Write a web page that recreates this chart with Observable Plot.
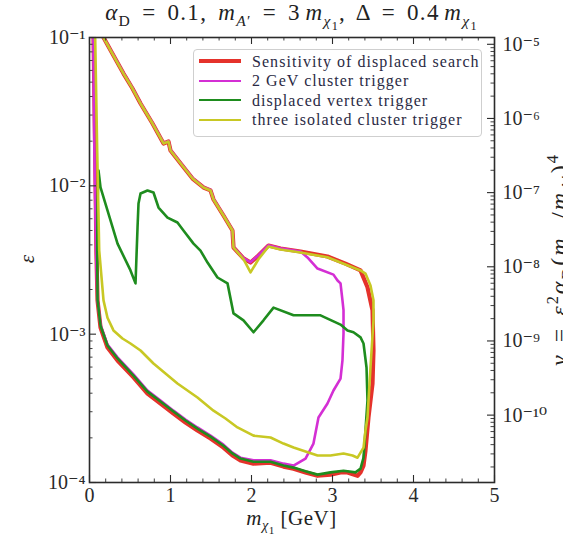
<!DOCTYPE html>
<html>
<head>
<meta charset="utf-8">
<script src="https://cdn.jsdelivr.net/npm/d3@7"></script>
<script src="https://cdn.jsdelivr.net/npm/@observablehq/plot@0.6"></script>
<style>
  body { margin: 0; background: #fff; }
  #fig { position: relative; width: 563px; height: 536px; overflow: hidden;
         font-family: "Liberation Serif", "DejaVu Serif", serif; color: #222; }
  #fig svg { position: absolute; left: 0; top: 0; }
  .ov { position: absolute; white-space: nowrap; line-height: 1; }
  .ov sub, .ov sup { font-size: 68%; line-height: 0; }
  .ov sub sub { font-size: 78%; }
  .sp { display: inline-block; width: 0.2em; }
  #title { left: 89px; width: 405px; top: 1px; text-align: center; font-size: 23px;
           letter-spacing: 1.3px; word-spacing: 4px; }
  #xlabel { left: 89px; width: 405px; top: 508px; text-align: center; font-size: 21px; letter-spacing: 0.5px; }
  #ylabel { left: 27px; top: 259px; font-size: 21px; transform: translate(-50%, -50%) rotate(-90deg); }
  #y2label { font-size: 24px; letter-spacing: 2px; word-spacing: 3px; transform-origin: 0 0; transform: rotate(-90deg); }
  #legend { left: 193px; top: 49px; width: 289px; height: 88px; box-sizing: border-box;
            border: 1px solid #cfcfcf; border-radius: 4px; background: rgba(255,255,255,0.85);
            font-size: 16px; letter-spacing: 1.05px; }
  .row { position: absolute; left: 0; height: 19px; width: 100%; }
  .row .sw { position: absolute; left: 5px; width: 42px; top: 50%; }
  .row .lab { position: absolute; left: 58px; top: 50%; transform: translateY(-50%); color: #2a2a44; }
</style>
</head>
<body>
<div id="fig"></div>
<script>
// Dark-sector reach in (m_chi1, epsilon); alpha_D = 0.1, m_A' = 3 m_chi1, Delta = 0.4 m_chi1.
// Each contour is a list of [m_chi1 (GeV), epsilon] points.

const sensitivity = [
  [0.045, 0.115], [0.05, 0.1], [0.07, 0.0173], [0.085, 0.00366], [0.099, 0.00169],
  [0.136, 0.00111], [0.222, 0.000813], [0.346, 0.000665], [0.543, 0.000511], [0.716, 0.000398],
  [0.877, 0.000341], [1.037, 0.000292], [1.185, 0.000254], [1.333, 0.000224], [1.494, 0.000198],
  [1.654, 0.000172], [1.765, 0.000152], [1.864, 0.000141], [2.025, 0.000134], [2.235, 0.000136],
  [2.395, 0.000128], [2.519, 0.000124], [2.667, 0.000117], [2.815, 0.000111], [2.975, 0.000113],
  [3.099, 0.000117], [3.185, 0.000117], [3.309, 0.000111], [3.346, 0.000117], [3.383, 0.000130],
  [3.407, 0.000164], [3.444, 0.000274], [3.494, 0.000465], [3.506, 0.000776], [3.494, 0.00145],
  [3.432, 0.00207], [3.346, 0.00269], [3.160, 0.00299], [2.938, 0.00334], [2.605, 0.00361],
  [2.358, 0.00378], [2.210, 0.00396], [2.086, 0.00339], [1.988, 0.00304], [1.901, 0.00324],
  [1.778, 0.00384], [1.765, 0.00500], [1.654, 0.00631], [1.531, 0.00809], [1.494, 0.00931],
  [1.407, 0.00975], [1.272, 0.0112], [1.123, 0.0142], [1.0, 0.0173], [0.975, 0.0199],
  [0.914, 0.0193], [0.778, 0.0263], [0.630, 0.0359], [0.531, 0.0453], [0.420, 0.0571],
  [0.296, 0.0756], [0.173, 0.1], [0.123, 0.111]
];

const clusterTrigger2GeV = [
  [0.04, 0.115], [0.045, 0.1], [0.06, 0.0173], [0.08, 0.00366], [0.097, 0.00174],
  [0.136, 0.00116], [0.222, 0.000851], [0.346, 0.000697], [0.543, 0.000535], [0.716, 0.000417],
  [0.877, 0.000357], [1.037, 0.000305], [1.185, 0.000266], [1.333, 0.000235], [1.494, 0.000207],
  [1.654, 0.000180], [1.765, 0.000159], [1.864, 0.000147], [2.025, 0.000141], [2.235, 0.000141],
  [2.395, 0.000134], [2.519, 0.000130], [2.667, 0.000145], [2.765, 0.000183], [2.827, 0.000274],
  [2.938, 0.000341], [3.012, 0.000417], [3.099, 0.000502], [3.123, 0.000665], [3.136, 0.00101],
  [3.136, 0.00145], [3.123, 0.00169], [3.099, 0.00220], [3.062, 0.00230], [3.012, 0.00252],
  [2.815, 0.00277], [2.691, 0.00329], [2.605, 0.00361], [2.358, 0.00380], [2.210, 0.00398],
  [2.086, 0.00341], [1.988, 0.00306], [1.901, 0.00326], [1.778, 0.00386], [1.765, 0.00503],
  [1.654, 0.00635], [1.531, 0.00815], [1.494, 0.00937], [1.407, 0.00980], [1.272, 0.0113],
  [1.123, 0.0143], [1.0, 0.0174], [0.975, 0.0200], [0.914, 0.0194], [0.778, 0.0265],
  [0.630, 0.0361], [0.531, 0.0456], [0.420, 0.0575], [0.296, 0.0760], [0.173, 0.1], [0.123, 0.111]
];

const displacedVertexTrigger = [
  [0.111, 0.0127], [0.100, 0.00809], [0.095, 0.00366], [0.099, 0.00171], [0.136, 0.00114],
  [0.222, 0.000838], [0.346, 0.000686], [0.543, 0.000526], [0.716, 0.000410], [0.877, 0.000352],
  [1.037, 0.000301], [1.185, 0.000262], [1.333, 0.000231], [1.494, 0.000204], [1.654, 0.000177],
  [1.765, 0.000157], [1.864, 0.000145], [2.025, 0.000138], [2.235, 0.000138], [2.395, 0.000130],
  [2.519, 0.000126], [2.667, 0.000119], [2.815, 0.000113], [2.975, 0.000117], [3.136, 0.000120],
  [3.284, 0.000117], [3.346, 0.000124], [3.383, 0.000147], [3.407, 0.000224], [3.432, 0.000357],
  [3.420, 0.000596], [3.383, 0.000865], [3.346, 0.000951], [3.259, 0.00103], [3.185, 0.00106],
  [3.099, 0.00116], [2.852, 0.00134], [2.519, 0.00134], [2.272, 0.00151], [2.148, 0.00124],
  [2.025, 0.00103], [1.901, 0.00124], [1.778, 0.00138], [1.704, 0.00220], [1.580, 0.00241],
  [1.457, 0.00304], [1.370, 0.00366], [1.284, 0.00408], [1.160, 0.00500], [1.086, 0.00566],
  [0.963, 0.00611], [0.852, 0.00714], [0.790, 0.00902], [0.716, 0.00931], [0.630, 0.00887],
  [0.605, 0.00760], [0.593, 0.00524], [0.568, 0.00220], [0.506, 0.00269], [0.346, 0.00408],
  [0.222, 0.00682], [0.136, 0.00975], [0.111, 0.0127]
];

const threeClusterTrigger = [
  [0.065, 0.115], [0.07, 0.1], [0.095, 0.0173], [0.12, 0.00366], [0.173, 0.00169],
  [0.222, 0.00129], [0.296, 0.00106], [0.407, 0.000935], [0.506, 0.000865], [0.630, 0.000776],
  [0.790, 0.000634], [0.938, 0.000543], [1.086, 0.000465], [1.333, 0.000374], [1.531, 0.000305],
  [1.679, 0.000270], [1.827, 0.000235], [2.025, 0.000207], [2.235, 0.000201], [2.395, 0.000183],
  [2.519, 0.000172], [2.667, 0.000162], [2.815, 0.000152], [2.975, 0.000152], [3.136, 0.000157],
  [3.247, 0.000152], [3.309, 0.000147], [3.383, 0.000172], [3.407, 0.000224], [3.432, 0.000274],
  [3.469, 0.000596], [3.506, 0.00124], [3.506, 0.00169], [3.469, 0.00213], [3.407, 0.00256],
  [3.346, 0.00269], [3.160, 0.00295], [2.938, 0.00330], [2.605, 0.00355], [2.358, 0.00372],
  [2.210, 0.00390], [2.086, 0.00320], [1.988, 0.00261], [1.901, 0.00320], [1.778, 0.00384],
  [1.765, 0.00500], [1.654, 0.00631], [1.531, 0.00809], [1.494, 0.00931], [1.407, 0.00975],
  [1.272, 0.0112], [1.123, 0.0142], [1.0, 0.0173], [0.975, 0.0199], [0.914, 0.0193],
  [0.778, 0.0263], [0.630, 0.0359], [0.531, 0.0453], [0.420, 0.0571], [0.296, 0.0756],
  [0.173, 0.1], [0.123, 0.111]
];

const seriesNames = ["Sensitivity of displaced search", "2 GeV cluster trigger",
                     "displaced vertex trigger", "three isolated cluster trigger"];
const seriesColors = ["#e5322b", "#d42fd4", "#1e8c1e", "#c8c824"];
const seriesWidths = [4.2, 2.6, 2.6, 2.6];

// Axis ticks
const xMajor = [0, 1, 2, 3, 4, 5];
const xMinor = [0.2, 0.4, 0.6, 0.8, 1.2, 1.4, 1.6, 1.8, 2.2, 2.4, 2.6, 2.8,
                3.2, 3.4, 3.6, 3.8, 4.2, 4.4, 4.6, 4.8];
const epsMajor = [1e-4, 1e-3, 1e-2, 1e-1];
const epsMinorFactors = [2, 3, 4, 5, 6, 7, 8, 9];
const yRightMajor = [1e-10, 1e-9, 1e-8, 1e-7, 1e-6, 1e-5];

// y = eps^2 * alpha_D * (m_chi1 / m_A')^4
const alphaD = 0.1, massRatio = 1 / 3;
const yFactor = alphaD * Math.pow(massRatio, 4);
const epsOfY = v => Math.sqrt(v / yFactor);
const yOfEps = e => yFactor * e * e;

const epsMinor = [];
for (const d of [1e-4, 1e-3, 1e-2]) for (const k of epsMinorFactors) epsMinor.push(k * d);

const yLo = yOfEps(1e-4), yHi = yOfEps(1e-1);
const yRightMinor = [];
for (const d of [1e-11, 1e-10, 1e-9, 1e-8, 1e-7, 1e-6])
  for (const k of epsMinorFactors) { const v = k * d; if (v > yLo && v < yHi) yRightMinor.push(v); }

const supMap = {"-": "\u207B", "0": "\u2070", "1": "\u00B9", "2": "\u00B2", "3": "\u00B3",
  "4": "\u2074", "5": "\u2075", "6": "\u2076", "7": "\u2077", "8": "\u2078", "9": "\u2079"};
const pow10 = v => "10" + String(Math.round(Math.log10(v))).split("").map(c => supMap[c]).join("");

const W = 563, H = 536, mL = 89, mR = 69, mT = 37, mB = 54;
const FW = W - mL - mR, FH = H - mT - mB;
const tickColor = "#2b2b2b", major = 7, minor = 3.5;
const tickFont = 20;
const curves = [sensitivity, clusterTrigger2GeV, displacedVertexTrigger, threeClusterTrigger];

const chart = Plot.plot({
  width: W, height: H,
  marginLeft: mL, marginRight: mR, marginTop: mT, marginBottom: mB,
  style: {fontFamily: "'Liberation Serif', 'DejaVu Serif', serif", background: "white", color: "#2a2a2a"},
  x: {domain: [0, 5]},
  y: {type: "log", domain: [1e-4, 1e-1]},
  marks: [
    ...curves.map((c, i) => Plot.line(c, {
      x: d => d[0], y: d => d[1], stroke: seriesColors[i], strokeWidth: seriesWidths[i],
      strokeLinejoin: "round", strokeLinecap: "round", clip: true
    })),
    // inward ticks on all four sides
    Plot.tickY(epsMajor, {y: d => d, insetRight: FW - major, stroke: tickColor, strokeWidth: 1.1}),
    Plot.tickY(epsMinor, {y: d => d, insetRight: FW - minor, stroke: tickColor, strokeWidth: 0.9}),
    Plot.tickY(yRightMajor.map(epsOfY), {y: d => d, insetLeft: FW - major, stroke: tickColor, strokeWidth: 1.1}),
    Plot.tickY(yRightMinor.map(epsOfY), {y: d => d, insetLeft: FW - minor, stroke: tickColor, strokeWidth: 0.9}),
    Plot.tickX(xMajor, {x: d => d, insetTop: FH - major, stroke: tickColor, strokeWidth: 1.1}),
    Plot.tickX(xMinor, {x: d => d, insetTop: FH - minor, stroke: tickColor, strokeWidth: 0.9}),
    Plot.tickX(xMajor, {x: d => d, insetBottom: FH - major, stroke: tickColor, strokeWidth: 1.1}),
    Plot.tickX(xMinor, {x: d => d, insetBottom: FH - minor, stroke: tickColor, strokeWidth: 0.9}),
    Plot.frame({stroke: "#2b2b2b", strokeWidth: 1.6}),
    Plot.axisX({ticks: xMajor, tickSize: 0, tickPadding: 5, tickFormat: d => String(d), fontSize: tickFont, label: null}),
    Plot.axisY({ticks: epsMajor, tickSize: 0, tickPadding: 4, tickFormat: pow10, fontSize: tickFont, label: null}),
    // secondary axis labels in units of y, placed at the matching epsilon
    Plot.text(yRightMajor, {y: v => epsOfY(v), text: v => pow10(v), frameAnchor: "right",
                            textAnchor: "start", dx: 8, fontSize: tickFont, fill: "#2a2a2a"})
  ]
});

const fig = document.getElementById("fig");
fig.appendChild(chart);

function addOverlay(id, html) {
  const el = document.createElement("div");
  el.className = "ov"; el.id = id; el.innerHTML = html;
  fig.appendChild(el);
  return el;
}

addOverlay("title",
  "<i>α</i><sub>D</sub> = 0.1, <i>m</i><sub><i>A</i>′</sub> = 3<span class='sp'></span><i>m</i><sub><i>χ</i><sub>1</sub></sub>, " +
  "Δ = 0.4<span class='sp'></span><i>m</i><sub><i>χ</i><sub>1</sub></sub>");
addOverlay("xlabel", "<i>m</i><sub><i>χ</i><sub>1</sub></sub> [GeV]");
addOverlay("ylabel", "<i>ε</i>");

// Secondary-axis label, rotated and centred on the plot frame; its baseline sits past the right edge.
const y2 = addOverlay("y2label",
  "<i>y</i> = <i>ε</i><sup>2</sup><i>α</i><sub>D</sub>(<i>m</i><sub><i>χ</i><sub>1</sub></sub>/<i>m</i><sub><i>A</i>′</sub>)<sup>4</sup>");
const y2Len = y2.offsetWidth;
const y2Font = 24, y2Baseline = 568;
y2.style.left = (y2Baseline - 0.89 * y2Font) + "px";
y2.style.top = (mT + FH / 2 + y2Len / 2) + "px";

const legend = addOverlay("legend", "");
seriesNames.forEach((name, i) => {
  const row = document.createElement("div");
  row.className = "row";
  row.style.top = (2 + i * 19.5) + "px";
  row.innerHTML = `<div class="sw" style="border-top:${seriesWidths[i]}px solid ${seriesColors[i]};margin-top:${-seriesWidths[i] / 2}px"></div>` +
                  `<div class="lab">${name}</div>`;
  legend.appendChild(row);
});
</script>
</body>
</html>
